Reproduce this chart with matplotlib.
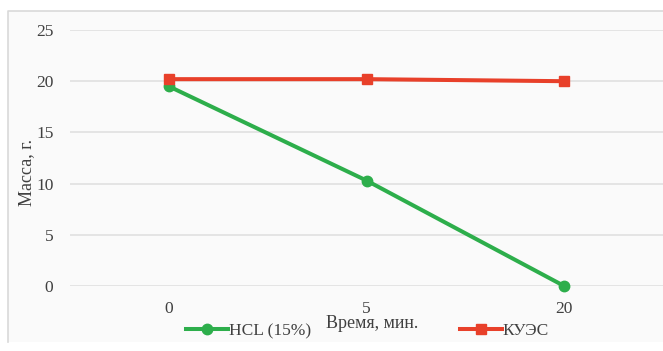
import matplotlib
matplotlib.use("Agg")
import matplotlib.pyplot as plt
from matplotlib.patches import Rectangle
from matplotlib.lines import Line2D

plt.rcParams['font.family'] = ['Liberation Serif', 'DejaVu Serif']

# time points (categorical) and mass values, g
times = ['0', '5', '20']
hcl = [19.5, 10.3, 0.0]
kues = [20.2, 20.2, 20.0]
y_ticks = [0, 5, 10, 15, 20, 25]

W, H = 663, 351
fig = plt.figure(figsize=(W / 100, H / 100), dpi=100)

# chart frame: light fill with left and top border lines
fig.patches.append(Rectangle((8 / W, 1 - 342 / H), (W - 8) / W + 0.01, (342 - 11) / H,
                             transform=fig.transFigure, facecolor='#fafafa',
                             edgecolor='none', zorder=-5))
fig.lines.append(Line2D([8 / W, 8 / W, 1.0], [1 - 342 / H, 1 - 11 / H, 1 - 11 / H],
                        transform=fig.transFigure, color='#d9d9d9', lw=1.2, zorder=-4))

ax = fig.add_axes([70 / W, 1 - 286 / H, (W - 70) / W, (286 - 30) / H])
ax.set_facecolor('none')
ax.set_zorder(2)

x = range(len(times))
ax.plot(x, hcl, color='#2DAE4B', lw=2.9, marker='o', ms=7.5, label='HCL (15%)',
        clip_on=False, zorder=3)
ax.plot(x, kues, color='#E8402A', lw=2.9, marker='s', ms=7, label='КУЭС',
        clip_on=False, zorder=4)

ax.set_xlim(-0.5, 2.5)
ax.set_ylim(0, 25)
ax.set_xticks(list(x))
ax.set_xticklabels(times)
ax.set_yticks(y_ticks)
ax.grid(axis='y', color='#e0e0e0', lw=1.2)
ax.set_axisbelow(True)
for s in ax.spines.values():
    s.set_visible(False)
ax.tick_params(length=0, labelsize=12.5, colors='#404040')
ax.tick_params(axis='y', pad=12)
ax.tick_params(axis='x', pad=11)

fig.text(27 / W, 1 - 172 / H, 'Масса, г.', rotation=90, ha='center', va='center',
         fontsize=13, color='#404040')
fig.text(372 / W, 1 - 324 / H, 'Время, мин.', ha='center', va='center',
         fontsize=13, color='#404040')

ax.legend(loc='center left', bbox_to_anchor=(186 / W, 1 - 331 / H),
          bbox_transform=fig.transFigure, ncol=2, frameon=False,
          fontsize=12.5, handlelength=2.4, handletextpad=0.05,
          columnspacing=8.6, borderpad=0, borderaxespad=0, labelcolor='#404040')

fig.savefig('out.png', dpi=100)
